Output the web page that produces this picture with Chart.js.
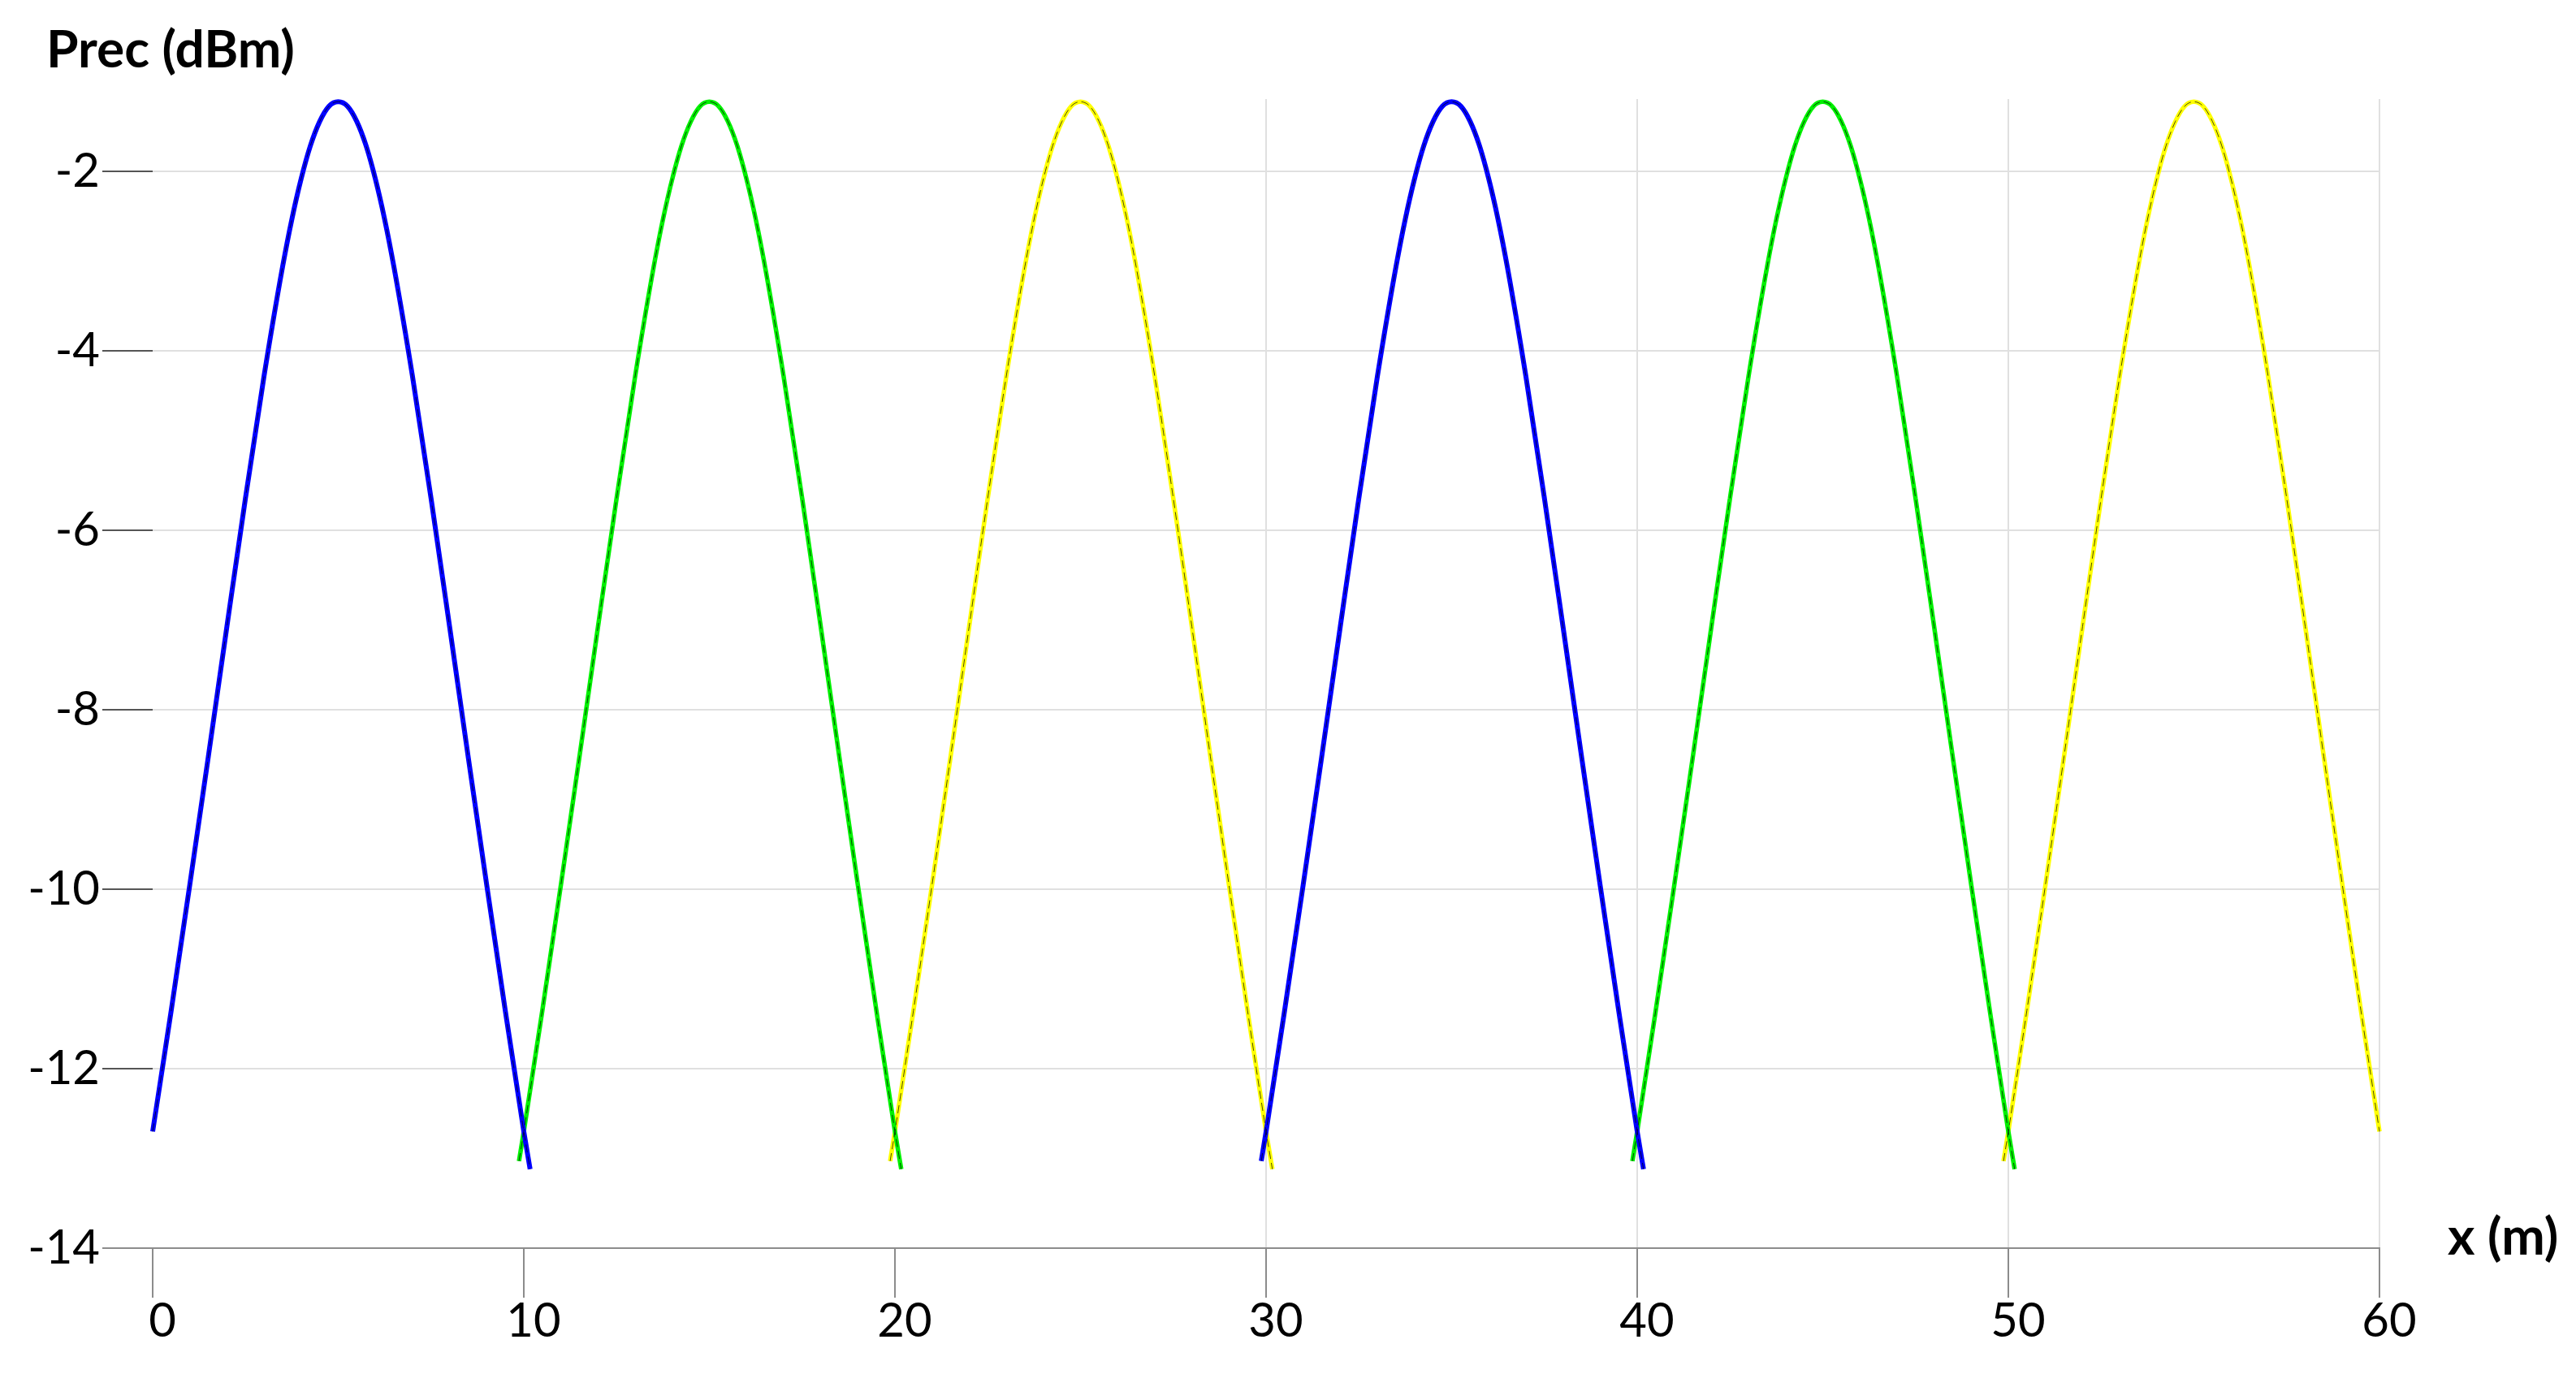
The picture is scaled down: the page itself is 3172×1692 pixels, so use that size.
<!DOCTYPE html>
<html>
<head>
<meta charset="utf-8">
<script src="https://cdn.jsdelivr.net/npm/chart.js@4.4.1/dist/chart.umd.min.js"></script>
<style>
  html, body { margin: 0; padding: 0; background: #ffffff; }
  #wrap { width: 3172px; height: 1692px; }
</style>
</head>
<body>
<div id="wrap"><canvas id="c" width="3172" height="1692"></canvas></div>
<script>
// ---- data ----
const yTitle = 'Prec (dBm)';
const xTitle = 'x (m)';
const xTicks = [0, 10, 20, 30, 40, 50, 60];
const yTicks = [-14, -12, -10, -8, -6, -4, -2];

// lamp (arch) centres, metres
const lampX = [5, 15, 25, 35, 45, 55];
// distance from the lamp at which each value was read (m)
const offset = [-5.13, -5, -4.5, -4, -3.5, -3, -2.5, -2, -1.5, -1.25, -1, -0.75, -0.5, -0.25, 0,
                0.25, 0.5, 0.75, 1, 1.25, 1.5, 2, 2.5, 3, 3.5, 4, 4.5, 5, 5.17];

// received power (dBm) for each arch, read at the offsets above
const blue1   = [null, -12.70, -11.35, -9.95, -8.52, -7.07, -5.64, -4.28, -3.06, -2.53, -2.08, -1.71, -1.44, -1.27, -1.22,
                 -1.27, -1.44, -1.71, -2.08, -2.53, -3.06, -4.28, -5.64, -7.07, -8.52, -9.95, -11.35, -12.70, -13.12];
const green1  = [-13.03, -12.70, -11.35, -9.95, -8.52, -7.07, -5.64, -4.28, -3.06, -2.53, -2.08, -1.71, -1.44, -1.27, -1.22,
                 -1.27, -1.44, -1.71, -2.08, -2.53, -3.06, -4.28, -5.64, -7.07, -8.52, -9.95, -11.35, -12.70, -13.12];
const yellow1 = [-13.03, -12.70, -11.35, -9.95, -8.52, -7.07, -5.64, -4.28, -3.06, -2.53, -2.08, -1.71, -1.44, -1.27, -1.22,
                 -1.27, -1.44, -1.71, -2.08, -2.53, -3.06, -4.28, -5.64, -7.07, -8.52, -9.95, -11.35, -12.70, -13.12];
const blue2   = [-13.03, -12.70, -11.35, -9.95, -8.52, -7.07, -5.64, -4.28, -3.06, -2.53, -2.08, -1.71, -1.44, -1.27, -1.22,
                 -1.27, -1.44, -1.71, -2.08, -2.53, -3.06, -4.28, -5.64, -7.07, -8.52, -9.95, -11.35, -12.70, -13.12];
const green2  = [-13.03, -12.70, -11.35, -9.95, -8.52, -7.07, -5.64, -4.28, -3.06, -2.53, -2.08, -1.71, -1.44, -1.27, -1.22,
                 -1.27, -1.44, -1.71, -2.08, -2.53, -3.06, -4.28, -5.64, -7.07, -8.52, -9.95, -11.35, -12.70, -13.12];
const yellow2 = [-13.03, -12.70, -11.35, -9.95, -8.52, -7.07, -5.64, -4.28, -3.06, -2.53, -2.08, -1.71, -1.44, -1.27, -1.22,
                 -1.27, -1.44, -1.71, -2.08, -2.53, -3.06, -4.28, -5.64, -7.07, -8.52, -9.95, -11.35, -12.70, null];

const BLUE = '#0000ff', GREEN = '#00f000', YELLOW = '#ffff00';

// ---- build datasets ----
const arches = [
  { vals: blue1,   centre: lampX[0], color: BLUE,   width: 6 },
  { vals: green1,  centre: lampX[1], color: GREEN,  width: 5.5 },
  { vals: yellow1, centre: lampX[2], color: YELLOW, width: 5.5 },
  { vals: blue2,   centre: lampX[3], color: BLUE,   width: 6 },
  { vals: green2,  centre: lampX[4], color: GREEN,  width: 5.5 },
  { vals: yellow2, centre: lampX[5], color: YELLOW, width: 5.5 }
];
function pts(a) {
  const out = [];
  a.vals.forEach((v, i) => { if (v !== null) out.push({ x: a.centre + offset[i], y: v }); });
  return out;
}
const colourRank = c => (c === BLUE ? 0 : c === GREEN ? 1 : 2);
const datasets = [];
// thin black dashed centre lines (on top)
arches.forEach(a => datasets.push({
  data: pts(a), borderColor: 'rgba(0,0,0,0.7)', borderWidth: 1, borderDash: [10, 5],
  pointRadius: 0, fill: false, clip: false, order: 0
}));
// coloured thick lines: blue over green over yellow
arches.forEach(a => datasets.push({
  data: pts(a), borderColor: a.color, borderWidth: a.width,
  pointRadius: 0, fill: false, clip: false, order: 1 + colourRank(a.color)
}));

const titlePlugin = {
  id: 'freeTitles',
  afterDraw(chart) {
    const c = chart.ctx;
    c.save();
    c.fillStyle = '#000';
    c.font = 'bold 64px Lato';
    c.textAlign = 'left';
    c.textBaseline = 'middle';
    c.fillText(yTitle, 57, 62);
    c.fillText(xTitle, 3014, 1524);
    c.restore();
  }
};

new Chart(document.getElementById('c'), {
  type: 'line',
  data: { datasets },
  options: {
    responsive: false,
    devicePixelRatio: 1,
    animation: false,
    layout: { padding: { top: 122, right: 242, bottom: 0, left: 0 } },
    plugins: { legend: { display: false }, tooltip: { enabled: false } },
    elements: { point: { radius: 0 }, line: { cubicInterpolationMode: 'monotone' } },
    scales: {
      x: {
        type: 'linear', min: xTicks[0], max: xTicks[xTicks.length - 1],
        afterBuildTicks: s => { s.ticks = xTicks.map(v => ({ value: v })); },
        ticks: { font: { family: 'Lato', size: 58, lineHeight: 1 }, color: '#000', padding: 0, labelOffset: 12,
                 maxRotation: 0, autoSkip: false },
        grid: {
          color: c => (c.tick && c.tick.value >= 30) ? '#e0e0e0' : 'rgba(0,0,0,0)',
          lineWidth: 2, tickColor: '#8c8c8c', tickLength: 61, tickWidth: 2
        },
        border: { display: true, color: '#8c8c8c', width: 2 },
        afterFit: s => { s.height = 155; }
      },
      y: {
        type: 'linear', min: -14, max: -1.19,
        afterBuildTicks: s => { s.ticks = yTicks.map(v => ({ value: v })); },
        ticks: { font: { family: 'Lato', size: 58 }, color: '#000', padding: 3 },
        grid: {
          color: c => (c.tick && c.tick.value === -14) ? 'rgba(0,0,0,0)' : '#e0e0e0',
          lineWidth: 2,
          tickColor: c => (c.tick && c.tick.value === -14) ? '#8c8c8c' : '#555555',
          tickLength: 62, tickWidth: 2
        },
        border: { display: false },
        afterFit: s => { s.width = 188; }
      }
    }
  },
  plugins: [titlePlugin]
});
</script>
</body>
</html>
